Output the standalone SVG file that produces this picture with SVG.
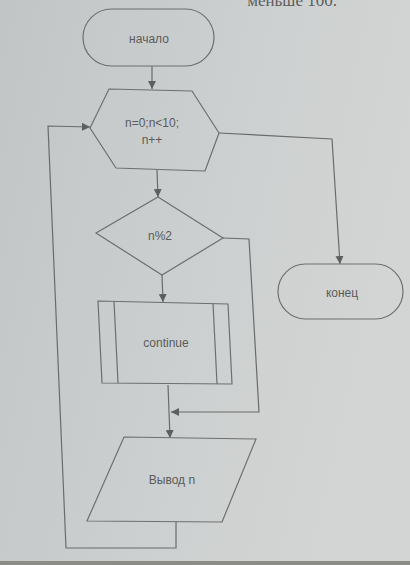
<svg xmlns="http://www.w3.org/2000/svg" width="410" height="565" viewBox="0 0 410 565">
<defs>
<linearGradient id="bg" x1="0" y1="0" x2="1" y2="0.3">
<stop offset="0" stop-color="#c2c5c5"/>
<stop offset="0.6" stop-color="#cdd0d0"/>
<stop offset="1" stop-color="#d3d5d4"/>
</linearGradient>
<marker id="ah" viewBox="0 0 10 10" refX="10" refY="5" markerWidth="8" markerHeight="8" markerUnits="userSpaceOnUse" orient="auto">
<path d="M0,0 L10,5 L0,10 z" fill="#5e5e5e"/>
</marker>
<style>
.s{fill:none;stroke:#6e6f6f;stroke-width:1.2}
.t{font-family:"Liberation Sans",Arial,sans-serif;font-size:12px;fill:#5a5b5b;text-anchor:middle}
.c{fill:none;stroke:#6a6b6b;stroke-width:1.2}
</style>
</defs>
<rect x="0" y="0" width="410" height="565" fill="url(#bg)"/>
<rect x="0" y="561" width="410" height="4" fill="#8b8c85"/>
<text x="337" y="6" font-family="Liberation Serif,serif" font-size="17" fill="#5c5d5d" text-anchor="end">меньше 100.</text>

<g id="connectors">
<line class="c" x1="152" y1="66" x2="152" y2="89" marker-end="url(#ah)"/>
<polyline class="c" points="219,133 332,139 340,264" marker-end="url(#ah)"/>
<line class="c" x1="157" y1="170" x2="158" y2="197" marker-end="url(#ah)"/>
<line class="c" x1="162" y1="275" x2="163" y2="302" marker-end="url(#ah)"/>
<polyline class="c" points="223,238 249,239 259,412 171,412" marker-end="url(#ah)"/>
<line class="c" x1="168" y1="385" x2="170" y2="438" marker-end="url(#ah)"/>
<polyline class="c" points="176,522 176,548 66,548 48,126 90,127" marker-end="url(#ah)"/>
</g>

<g id="start">
<rect class="s" x="83" y="9" width="131" height="57" rx="28.5"/>
<text class="t" x="149" y="43">начало</text>
</g>

<g id="loop">
<polygon class="s" points="90,128 109,89 192,91 219,133 205,171 116,168"/>
<text class="t" x="152" y="127">n=0;n&lt;10;</text>
<text class="t" x="152" y="144">n++</text>
</g>

<g id="cond">
<polygon class="s" points="158,197 223,238 162,275 96,233"/>
<text class="t" x="160" y="240">n%2</text>
</g>

<g id="continue">
<polygon class="s" points="98,301 228,304 232,384 102,383"/>
<line class="s" x1="114" y1="301" x2="118" y2="383"/>
<line class="s" x1="213" y1="303" x2="217" y2="384"/>
<text class="t" x="166" y="347">continue</text>
</g>

<g id="output">
<polygon class="s" points="124,437 256,439 222,522 87,521"/>
<text class="t" x="172" y="484">Вывод n</text>
</g>

<g id="end">
<rect class="s" x="278" y="264" width="125" height="55" rx="27.5"/>
<text class="t" x="342" y="297">конец</text>
</g>
</svg>
